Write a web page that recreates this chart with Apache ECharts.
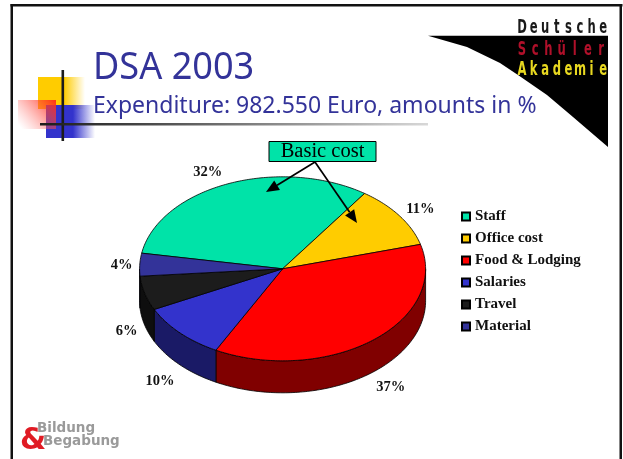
<!DOCTYPE html>
<html>
<head>
<meta charset="utf-8">
<style>html,body{margin:0;padding:0;background:#fff}#c{width:623px;height:459px}</style>
<script src="https://cdn.jsdelivr.net/npm/echarts@6/dist/echarts.min.js"></script>
</head>
<body>
<div id="c"></div>
<script>
const categories = ['Staff', 'Office cost', 'Food & Lodging', 'Salaries', 'Travel', 'Material'];
const amounts = [32, 11, 37, 10, 6, 4];
const topColors = ['#00E3A8', '#FFCC00', '#FF0000', '#3333CC', '#1C1C1C', '#333399'];
const sideColors = ['#007254', '#806600', '#800000', '#1A1A66', '#0E0E0E', '#1A1A4D'];
const labelNudges = [[-20, -12], [21, -7], [18.5, 47], [-20, 48], [-18, 38], [-18, 1]];

const PIE = { cx: 282.6, cy: 268.8, rx: 143, ry: 92, depth: 32, startDeg: 279.8 };
const INK = '#333399';
const SERIF = '"Liberation Serif", serif';
const SANS = '"Noto Sans", sans-serif';
const BOLD_SANS = '"DejaVu Sans", sans-serif';

const total = amounts.reduce((a, b) => a + b, 0);
function rim(deg, drop) {
  const t = deg * Math.PI / 180;
  return [PIE.cx + PIE.rx * Math.sin(t), PIE.cy - PIE.ry * Math.cos(t) + (drop || 0)];
}
function arcPoints(from, to, drop) {
  const pts = [];
  const n = Math.max(2, Math.ceil(Math.abs(to - from)));
  for (let i = 0; i <= n; i++) pts.push(rim(from + (to - from) * i / n, drop));
  return pts;
}

function makeSlice(index, startDeg) {
  return function (params, api) {
    const value = api.value(0);
    const sweep = value / total * 360;
    const endDeg = startDeg + sweep;
    const children = [];
    const edge = { stroke: '#000', lineWidth: 0.8, lineJoin: 'round' };
    [0, 360].forEach(shift => {
      const a = Math.max(startDeg, 90 + shift), b = Math.min(endDeg, 270 + shift);
      if (b > a) {
        const pts = arcPoints(a, b, 0).concat(arcPoints(b, a, PIE.depth));
        children.push({ type: 'polygon', shape: { points: pts },
          style: Object.assign({ fill: sideColors[index] }, edge) });
      }
    });
    const top = [[PIE.cx, PIE.cy]].concat(arcPoints(startDeg, endDeg, 0));
    children.push({ type: 'polygon', shape: { points: top },
      style: Object.assign({ fill: topColors[index] }, edge) });
    const mid = rim(startDeg + sweep / 2, 0);
    children.push({ type: 'text', style: {
      text: value + '%', x: mid[0] + labelNudges[index][0], y: mid[1] + labelNudges[index][1],
      fill: '#111', font: 'bold 14.5px ' + SERIF, align: 'center', verticalAlign: 'middle' } });
    return { type: 'group', children };
  };
}

let cursor = PIE.startDeg;
const series = categories.map((name, i) => {
  const s = {
    type: 'custom', name, coordinateSystem: 'none', silent: true,
    itemStyle: { color: topColors[i], borderColor: '#000', borderWidth: 1 },
    data: [[amounts[i]]], renderItem: makeSlice(i, cursor)
  };
  cursor += amounts[i] / total * 360;
  return s;
});

const graphics = [
  { type: 'rect', shape: { x: 10.5, y: 4, width: 2.5, height: 455 }, style: { fill: '#111' } },
  { type: 'rect', shape: { x: 10.5, y: 4, width: 612, height: 2.5 }, style: { fill: '#111' } },
  { type: 'rect', shape: { x: 619.5, y: 4, width: 2.5, height: 455 }, style: { fill: '#111' } }
];
function fade(color, solidTo) {
  return { type: 'linear', x: 0, y: 0, x2: 1, y2: 0, global: false,
    colorStops: [{ offset: 0, color }, { offset: solidTo, color },
      { offset: 1, color: echarts.color.modifyAlpha(color, 0) }] };
}
graphics.push(
  { type: 'rect', shape: { x: 38, y: 77, width: 47, height: 32 }, style: { fill: fade('#FFCC00', 0.55) } },
  { type: 'rect', shape: { x: 46, y: 105, width: 49, height: 33 }, style: { fill: fade('#3333CC', 0.55) } },
  { type: 'rect', shape: { x: 18, y: 100, width: 38, height: 29 }, style: { fill: {
      type: 'linear', x: 1, y: 0, x2: 0.1, y2: 1,
      colorStops: [{ offset: 0, color: 'rgba(255,40,20,0.95)' }, { offset: 1, color: 'rgba(255,120,120,0)' }] } } },
  { type: 'rect', shape: { x: 61.5, y: 70, width: 2.6, height: 71 }, style: { fill: '#1C1C1C' } },
  { type: 'rect', shape: { x: 40, y: 123, width: 388, height: 2.6 }, style: { fill: {
      type: 'linear', x: 0, y: 0, x2: 1, y2: 0,
      colorStops: [{ offset: 0, color: '#1C1C1C' }, { offset: 0.25, color: '#444' }, { offset: 1, color: '#D8D8D8' }] } } }
);
graphics.push(
  { type: 'text', x: 93, y: 68, scaleX: 0.95, style: { text: 'DSA 2003', fill: INK, font: '38px ' + SANS, verticalAlign: 'middle' } },
  { type: 'text', x: 93, y: 106, scaleX: 1, style: { text: 'Expenditure: 982.550 Euro, amounts in %', fill: INK, font: '23px ' + SANS, verticalAlign: 'middle' } }
);
graphics.push({ type: 'polygon', shape: { points: [[428, 35.7], [608, 35.7], [608, 147], [573, 117], [547, 95], [518, 75], [500, 63], [467, 47]] }, style: { fill: '#000' } });
[['Deutsche', 28, '#1A1A1A', 11.6], ['Schüler', 49.5, '#B0102A', 13.2], ['Akademie', 69.5, '#E8D820', 11.6]].forEach(row => {
  Array.from(row[0]).forEach((ch, i) => {
    graphics.push({ type: 'text', x: 522 + i * row[3], y: row[1], scaleX: 0.58, style: { text: ch, fill: row[2],
      font: 'bold 20px "DejaVu Sans", sans-serif', align: 'center', verticalAlign: 'middle' } });
  });
});
function arrow(x1, y1, x2, y2) {
  const len = Math.hypot(x2 - x1, y2 - y1), ux = (x2 - x1) / len, uy = (y2 - y1) / len;
  const bx = x2 - ux * 13, by = y2 - uy * 13;
  graphics.push(
    { type: 'line', z: 100, shape: { x1, y1, x2: bx, y2: by }, style: { stroke: '#000', lineWidth: 1.7 } },
    { type: 'polygon', z: 100, shape: { points: [[x2, y2], [bx - uy * 5.5, by + ux * 5.5], [bx + uy * 5.5, by - ux * 5.5]] }, style: { fill: '#000' } }
  );
}
graphics.push(
  { type: 'rect', z: 100, shape: { x: 269, y: 141.5, width: 107, height: 20 }, style: { fill: '#00E3A8', stroke: '#000', lineWidth: 1 } },
  { type: 'text', z: 101, style: { text: 'Basic cost', x: 322.5, y: 152, fill: '#000', font: '20.5px ' + SERIF, align: 'center', verticalAlign: 'middle' } }
);
arrow(315, 162, 266, 192);
arrow(315, 162, 357, 223);
graphics.push(
  { type: 'text', style: { text: 'Bildung', x: 37, y: 428, fill: '#9A9A9A', font: 'bold 13.5px ' + BOLD_SANS, verticalAlign: 'middle' } },
  { type: 'text', style: { text: 'Begabung', x: 43, y: 441, fill: '#9A9A9A', font: 'bold 13.5px ' + BOLD_SANS, verticalAlign: 'middle' } },
  { type: 'text', style: { text: '&', x: 20, y: 441, fill: '#E01B24', font: 'bold 30px ' + BOLD_SANS, verticalAlign: 'middle' } }
);

const chart = echarts.init(document.getElementById('c'), null, { renderer: 'canvas', width: 623, height: 459 });
chart.setOption({
  animation: false,
  backgroundColor: '#fff',
  legend: {
    orient: 'vertical', left: 461, top: 209, padding: 0, icon: 'rect',
    itemWidth: 8, itemHeight: 8, itemGap: 7, selectedMode: false,
    data: categories,
    textStyle: { fontFamily: SERIF, fontWeight: 'bold', fontSize: 15, color: '#111', lineHeight: 15 }
  },
  graphic: { elements: graphics },
  series
});
</script>
</body>
</html>
